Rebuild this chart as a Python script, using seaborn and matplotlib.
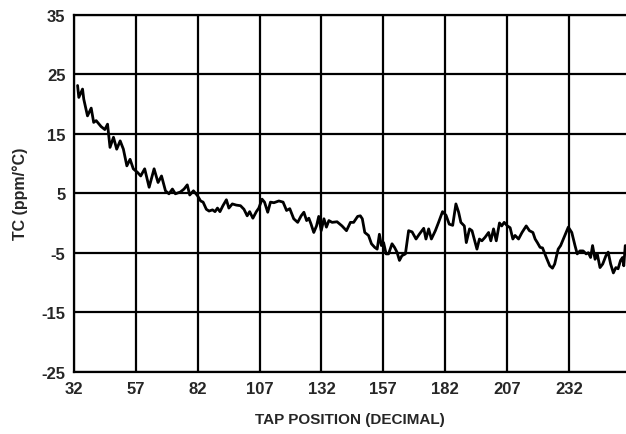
import matplotlib
matplotlib.use("Agg")
import matplotlib.pyplot as plt
import seaborn as sns
import pandas as pd

tap = [33.5, 34, 35.5, 36, 37.5, 39, 40, 41, 43, 44.5, 45.6, 46.6, 48, 49.3, 50.7, 52, 53.4, 54.7, 56, 57.7,
       59, 60.6, 62.4, 64.4, 66, 67.4, 69, 70.4, 71.8, 73, 75, 76.5, 77.8, 78.8, 80.3, 81.9, 83.2, 84.2, 85.5, 86.6,
       88, 89, 90, 91, 92.2, 93.6, 94.6, 96, 97.6, 99.3, 100.7, 102, 103, 104.3, 105.7, 106.7, 108, 109, 110.3, 111.4,
       112.8, 114.8, 116.5, 117.9, 119.2, 120.8, 122.4, 123.8, 124.9, 126, 126.9, 127.8, 128.9, 130, 130.9, 131.9, 133, 134, 135, 136.3,
       138.3, 140.3, 142.1, 143.7, 145, 146.6, 147.7, 148.5, 149.5, 151, 152.2, 153.5, 154.5, 155.4, 156.2, 157.1, 158.1, 159.1, 160.5, 161.5,
       162.5, 163.5, 164.5, 165.9, 167.2, 168.6, 170.2, 171.5, 173.3, 174.2, 175.3, 176.4, 178, 179.3, 180.9, 182.3, 183.6, 185, 186.3, 187.4,
       188.3, 189.7, 190.5, 191.8, 192.8, 193.7, 194.8, 195.8, 196.8, 198.1, 199.5, 200.4, 201.5, 202.6, 203.9, 204.8, 205.8, 207.1, 208.2, 209.3,
       210.2, 211.6, 213, 214.7, 216, 217.4, 218.3, 219.2, 220.3, 221.3, 222.8, 224.2, 225.3, 226.2, 227.6, 228.6, 230, 231.7, 233.1, 234.4,
       235.3, 236.4, 237.7, 238.9, 239.8, 240.7, 241.5, 242.5, 243.4, 244.5, 245.6, 246.9, 247.8, 248.8, 249.9, 250.9, 251.8, 252.8, 253.6, 254.1, 254.7]
tc = [23.1, 21.1, 22.5, 20.8, 18.0, 19.3, 16.9, 17.2, 16.2, 15.7, 16.6, 12.7, 14.4, 12.4, 13.8, 12.4, 9.6, 10.7, 9.1, 8.5,
      7.9, 9.1, 6.0, 9.1, 6.8, 7.9, 5.4, 4.9, 5.7, 4.9, 5.2, 5.7, 6.4, 4.7, 5.4, 4.6, 3.7, 3.5, 2.3, 2.0,
      2.2, 1.9, 2.5, 1.9, 2.9, 3.9, 2.5, 3.2, 3.0, 2.9, 2.3, 1.2, 1.9, 0.8, 1.9, 2.5, 4.0, 3.5, 1.8, 3.5,
      3.4, 3.7, 3.5, 2.1, 2.4, 0.7, 0.1, 1.2, 1.8, 0.4, 0.8, -0.2, -1.6, -0.5, 1.1, -1.3, 0.7, -0.7, 0.4, 0.1,
      0.2, -0.5, -1.3, 0.1, 0.1, 1.1, 1.2, 0.7, -1.6, -2.1, -3.5, -4.1, -4.4, -1.9, -3.8, -3.3, -5.2, -5.2, -3.5, -4.1,
      -4.9, -6.3, -5.5, -5.2, -1.3, -1.5, -2.7, -1.9, -0.9, -2.7, -1.0, -2.7, -1.3, 0.1, 1.9, 1.3, -0.2, -0.4, 3.2, 1.8,
      0.1, -0.5, -3.3, -1.0, -1.3, -2.7, -4.4, -2.7, -3.0, -2.4, -1.6, -3.0, -1.0, -3.0, 0.0, -0.5, 0.1, -0.5, -0.8, -2.7,
      -2.1, -2.7, -1.6, -0.5, -1.3, -1.6, -2.7, -3.3, -4.1, -4.2, -5.8, -7.2, -7.6, -6.9, -4.4, -3.8, -2.4, -0.7, -1.6, -3.8,
      -5.2, -4.7, -4.7, -5.2, -5.0, -5.8, -3.8, -6.1, -5.2, -7.5, -6.9, -5.5, -4.9, -6.9, -8.4, -7.5, -7.7, -6.3, -5.8, -7.2, -3.8]

x_ticks = [32, 57, 82, 107, 132, 157, 182, 207, 232]
y_ticks = [-25, -15, -5, 5, 15, 25, 35]

sns.set_style("white")
plt.rcParams['font.family'] = ['Liberation Sans', 'DejaVu Sans']
plt.rcParams['font.weight'] = 'bold'

df = pd.DataFrame({"tap": tap, "tc": tc})

fig = plt.figure(figsize=(6.26, 4.35), dpi=100)
ax = fig.add_axes([0.1180, 0.1432, 0.8820, 0.8207])

for xv in x_ticks + [257]:
    ax.axvline(xv, color='black', lw=1.6, zorder=1)
for yv in y_ticks:
    ax.axhline(yv, color='black', lw=1.6, zorder=1)

sns.lineplot(data=df, x="tap", y="tc", ax=ax, color='black', lw=2.0, zorder=3)

ax.set_xlim(32, 255)
ax.set_ylim(-25, 35)
ax.set_xticks(x_ticks)
ax.set_yticks(y_ticks)
ax.set_xticklabels([str(v) for v in x_ticks], fontsize=12, fontweight='bold')
ax.set_yticklabels([str(v) for v in y_ticks], fontsize=12, fontweight='bold')
ax.tick_params(axis='both', length=0)
ax.tick_params(axis='x', pad=7)
ax.tick_params(axis='y', pad=6)
for s in ['left', 'bottom', 'top']:
    ax.spines[s].set_linewidth(1.6)
    ax.spines[s].set_color('black')
ax.spines['right'].set_visible(False)

ax.set_xlabel("TAP POSITION (DECIMAL)", fontsize=11, fontweight='bold', labelpad=11)
ax.set_ylabel("TC (ppm/°C)", fontsize=11.5, fontweight='bold', labelpad=10)

fig.savefig("out.png", dpi=100)
